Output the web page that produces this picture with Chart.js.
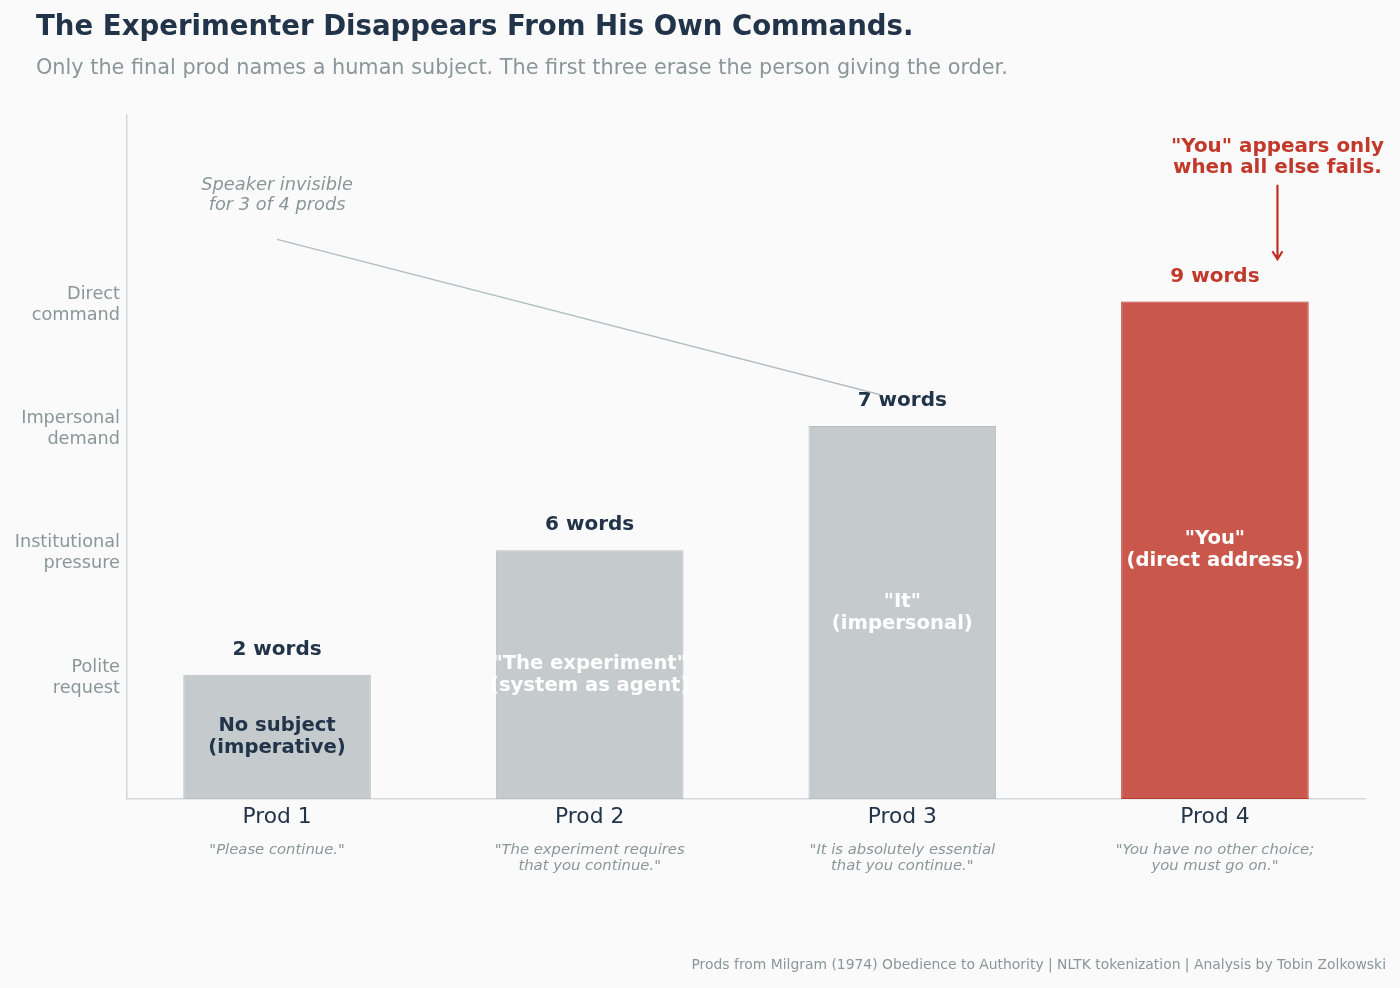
<!DOCTYPE html>
<html>
<head>
<meta charset="utf-8">
<script src="https://cdn.jsdelivr.net/npm/chart.js@4.4.1/dist/chart.umd.min.js"></script>
<style>
  html, body { margin: 0; padding: 0; background: #fafafa; }
  #wrap { width: 1400px; height: 988px; position: relative; }
</style>
</head>
<body>
<div id="wrap"><canvas id="chart" width="1400" height="988"></canvas></div>
<script>
// 데이터
const prods = ['Prod 1', 'Prod 2', 'Prod 3', 'Prod 4'];
const quotes = [
    ['"Please continue."'],
    ['"The experiment requires', 'that you continue."'],
    ['"It is absolutely essential', 'that you continue."'],
    ['"You have no other choice;', 'you must go on."']
];
const levels = [1, 2, 3, 4];
const wordCounts = [2, 6, 7, 9];
const subjectLabels = [
    ['No subject', '(imperative)'],
    ['"The experiment"', '(system as agent)'],
    ['"It"', '(impersonal)'],
    ['"You"', '(direct address)']
];
const levelNames = [
    ['Polite', 'request'],
    ['Institutional', 'pressure'],
    ['Impersonal', 'demand'],
    ['Direct', 'command']
];

const FONT = '"DejaVu Sans", Verdana, sans-serif';
const NAVY = '#22344a';
const GRAY = '#8a9699';
const RED = '#c0392b';

// 제목, 주석, 라벨 그리기
const textPlugin = {
    id: 'texts',
    afterDatasetsDraw(chart) {
        const ctx = chart.ctx;
        const xs = chart.scales.x;
        const ys = chart.scales.y;
        ctx.save();
        ctx.textAlign = 'left';
        ctx.textBaseline = 'middle';

        // 제목
        ctx.fillStyle = NAVY;
        ctx.font = 'bold 27.6px ' + FONT;
        ctx.fillText('The Experimenter Disappears From His Own Commands.', 36, 28);
        ctx.fillStyle = GRAY;
        ctx.font = '20.8px ' + FONT;
        ctx.fillText('Only the final prod names a human subject. The first three erase the person giving the order.', 36, 69);

        ctx.textAlign = 'center';

        // 막대 위 단어 수와 막대 안 라벨
        levels.forEach((lv, i) => {
            const x = xs.getPixelForValue(i);
            const top = ys.getPixelForValue(lv);
            ctx.font = 'bold 20px ' + FONT;
            ctx.fillStyle = i === 3 ? RED : NAVY;
            ctx.fillText(wordCounts[i] + ' words', x, top - 25);

            const mid = ys.getPixelForValue(lv / 2);
            ctx.font = 'bold 19.6px ' + FONT;
            ctx.fillStyle = i === 0 ? NAVY : '#ffffff';
            const lines = subjectLabels[i];
            lines.forEach((t, k) => {
                ctx.fillText(t, x, mid + (k - (lines.length - 1) / 2) * 22);
            });

            // 인용문
            ctx.font = 'italic 14.8px ' + FONT;
            ctx.fillStyle = GRAY;
            quotes[i].forEach((t, k) => {
                ctx.fillText(t, x, 850 + k * 16.5);
            });
        });

        // 화자 주석
        ctx.strokeStyle = '#b3bfbf';
        ctx.lineWidth = 1.5;
        ctx.beginPath();
        ctx.moveTo(xs.getPixelForValue(0), ys.getPixelForValue(4.5));
        ctx.lineTo(xs.getPixelForValue(1.93), ys.getPixelForValue(3.25));
        ctx.stroke();
        ctx.font = 'italic 17.8px ' + FONT;
        ctx.fillStyle = GRAY;
        ctx.fillText('Speaker invisible', xs.getPixelForValue(0), 185);
        ctx.fillText('for 3 of 4 prods', xs.getPixelForValue(0), 205);

        // "You" 주석 화살표
        const ax = xs.getPixelForValue(3.2);
        const ay1 = ys.getPixelForValue(4.94);
        const ay2 = ys.getPixelForValue(4.34);
        ctx.strokeStyle = '#bf2f22';
        ctx.lineWidth = 2.2;
        ctx.beginPath();
        ctx.moveTo(ax, ay1);
        ctx.lineTo(ax, ay2);
        ctx.moveTo(ax - 5, ay2 - 8);
        ctx.lineTo(ax, ay2);
        ctx.lineTo(ax + 5, ay2 - 8);
        ctx.stroke();
        ctx.font = 'bold 19.9px ' + FONT;
        ctx.fillStyle = RED;
        ctx.fillText('"You" appears only', ax, 147);
        ctx.fillText('when all else fails.', ax, 168);

        // 출처
        ctx.textAlign = 'right';
        ctx.font = '13.9px ' + FONT;
        ctx.fillStyle = GRAY;
        ctx.fillText('Prods from Milgram (1974) Obedience to Authority | NLTK tokenization | Analysis by Tobin Zolkowski', 1386, 965);
        ctx.restore();
    }
};

const bgPlugin = {
    id: 'bg',
    beforeDraw(chart) {
        const ctx = chart.ctx;
        ctx.save();
        ctx.fillStyle = '#fafafa';
        ctx.fillRect(0, 0, chart.width, chart.height);
        ctx.restore();
    }
};

new Chart(document.getElementById('chart').getContext('2d'), {
    type: 'bar',
    data: {
        datasets: [{
            data: levels.map((y, i) => ({ x: i, y: y })),
            backgroundColor: ['#c5cacc', '#c5cacc', '#c5cacc', '#c9574b'],
            borderColor: ['#b9bfc1', '#b9bfc1', '#b9bfc1', '#b5392e'],
            borderWidth: 1,
            borderSkipped: false,
            categoryPercentage: 0.6,
            barPercentage: 1.0
        }]
    },
    options: {
        responsive: false,
        animation: false,
        layout: { padding: { top: 115, right: 35, left: 0, bottom: 0 } },
        plugins: {
            legend: { display: false },
            tooltip: { enabled: false }
        },
        scales: {
            x: {
                type: 'linear',
                offset: false,
                min: -0.48,
                max: 3.48,
                grid: { display: false, drawTicks: false, offset: false },
                border: { display: true, color: '#d6d9db', width: 1.5 },
                afterBuildTicks(scale) {
                    scale.ticks = prods.map((_, i) => ({ value: i }));
                },
                afterFit(scale) { scale.height = 189; },
                ticks: {
                    padding: 5,
                    maxRotation: 0,
                    autoSkip: false,
                    font: { size: 21.8, family: FONT },
                    color: NAVY,
                    callback: (v) => prods[v]
                }
            },
            y: {
                min: 0,
                max: 5.5,
                grid: { display: false, drawTicks: false },
                border: { display: true, color: '#d6d9db', width: 1.5 },
                afterBuildTicks(scale) {
                    scale.ticks = levels.map(v => ({ value: v }));
                },
                afterFit(scale) { scale.width = 127; },
                ticks: {
                    padding: 7,
                    autoSkip: false,
                    labelOffset: 3,
                    font: { size: 17.7, family: FONT, lineHeight: 1.18 },
                    color: GRAY,
                    callback: (v) => levelNames[v - 1]
                }
            }
        }
    },
    plugins: [bgPlugin, textPlugin]
});
</script>
</body>
</html>
